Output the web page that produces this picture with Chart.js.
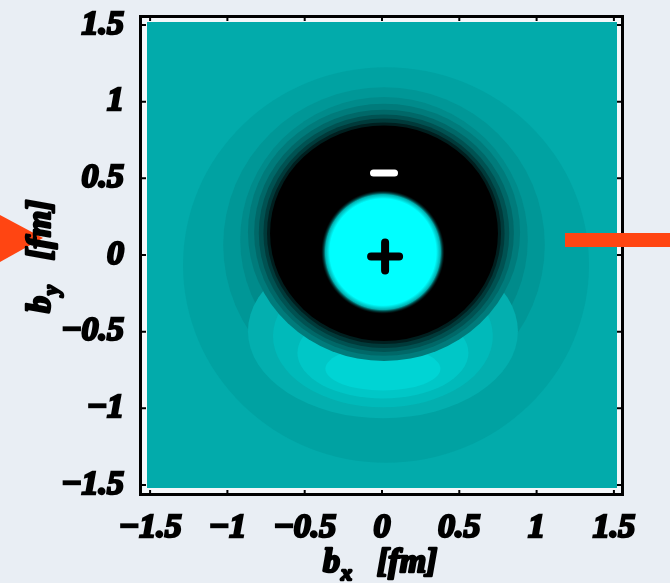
<!DOCTYPE html>
<html lang="en">
<head>
<meta charset="UTF-8">
<title>Transverse density</title>
<script src="https://cdn.jsdelivr.net/npm/chart.js"></script>
<style>
  html, body { margin: 0; padding: 0; background: #e9eef4; }
  #wrap { width: 670px; height: 583px; position: relative; }
</style>
</head>
<body>
<div id="wrap"><canvas id="densityChart" width="670" height="583"></canvas></div>
<script>
// axis ticks, in fm
const tickValues = [-1.5, -1, -0.5, 0, 0.5, 1, 1.5];
const tickLabels = ['\u22121.5', '\u22121', '\u22120.5', '0', '0.5', '1', '1.5'];
const axisMin = -1.52;
const axisMax = 1.52;

// contour bands as ellipses (fm), in drawing order:
// outer negative rings, positive lobes below, inner negative rings, core
const bandCx = [0.026, 0.013, 0.013, 0.006, 0.006, 0.006, 0.006, 0.013, 0.013, 0.013, 0.013, 0.013, 0.013];
const bandCy = [-0.065, 0.065, 0.10, -0.497, -0.529, -0.639, -0.742, 0.148, 0.145, 0.142, 0.142, 0.142, 0.142];
const bandRx = [1.313, 1.04, 0.93, 0.873, 0.711, 0.553, 0.372, 0.88, 0.84, 0.81, 0.78, 0.757, 0.737];
const bandRy = [1.29, 1.03, 0.93, 0.568, 0.465, 0.297, 0.142, 0.839, 0.803, 0.774, 0.748, 0.723, 0.703];

// positive core disk (fm)
const coreX = 0.006;
const coreY = 0.019;
const coreR = 0.40;

// sign markers (fm)
const plusPos = [{ x: 0.02, y: -0.01 }];
const minusPos = [{ x: 0.013, y: 0.535 }];

const bandColors = ['#00a2a2', '#009797', '#008b8b', '#03afaf', '#00baba', '#00c7c7', '#00d4d4',
                    '#007b7b', '#006868', '#005252', '#003a3a', '#001f1f', '#000000'];
const bgTeal = '#02abab';
const titleFont = 'italic bold 34px "Liberation Serif"';
const subFont = 'italic bold 22px "Liberation Serif"';

const contours = {
    id: 'contours',
    beforeDraw(chart) {
        const ctx = chart.ctx;
        const a = chart.chartArea;
        ctx.save();
        ctx.fillStyle = '#f4f7fa';
        ctx.fillRect(a.left - 6, a.top - 6, a.right - a.left + 12, a.bottom - a.top + 12);
        ctx.restore();
    },
    beforeDatasetsDraw(chart) {
        const ctx = chart.ctx;
        const a = chart.chartArea;
        const xs = chart.scales.x, ys = chart.scales.y;
        ctx.save();
        ctx.beginPath();
        ctx.rect(a.left, a.top, a.right - a.left, a.bottom - a.top);
        ctx.clip();
        ctx.fillStyle = bgTeal;
        ctx.fillRect(a.left, a.top, a.right - a.left, a.bottom - a.top);
        for (let i = 0; i < bandCx.length; i++) {
            const px = xs.getPixelForValue(bandCx[i]);
            const py = ys.getPixelForValue(bandCy[i]);
            const rx = Math.abs(xs.getPixelForValue(bandCx[i] + bandRx[i]) - px);
            const ry = Math.abs(ys.getPixelForValue(bandCy[i] + bandRy[i]) - py);
            ctx.beginPath();
            ctx.ellipse(px, py, rx, ry, 0, 0, Math.PI * 2);
            ctx.fillStyle = bandColors[i];
            ctx.fill();
        }
        // core disk with soft edge
        const cx = xs.getPixelForValue(coreX);
        const cy = ys.getPixelForValue(coreY);
        const r = Math.abs(xs.getPixelForValue(coreX + coreR) - cx);
        const g = ctx.createRadialGradient(cx, cy, 0, cx, cy, r);
        g.addColorStop(0, '#00ffff');
        g.addColorStop(0.86, '#00ffff');
        g.addColorStop(0.93, '#00b0b0');
        g.addColorStop(1, 'rgba(0,40,40,0)');
        ctx.beginPath();
        ctx.arc(cx, cy, r, 0, Math.PI * 2);
        ctx.fillStyle = g;
        ctx.fill();
        ctx.restore();
        ctx.lineCap = 'round';
    },
    afterDatasetsDraw(chart) {
        chart.ctx.lineCap = 'butt';
    },
    afterDraw(chart) {
        const ctx = chart.ctx;
        const a = chart.chartArea;
        const xs = chart.scales.x, ys = chart.scales.y;
        ctx.save();
        // frame
        ctx.strokeStyle = '#000';
        ctx.lineWidth = 3;
        ctx.strokeRect(a.left - 6.5, a.top - 5.5, a.right - a.left + 12, a.bottom - a.top + 12);
        ctx.lineWidth = 2;
        tickValues.forEach(v => {
            const px = xs.getPixelForValue(v);
            const py = ys.getPixelForValue(v);
            ctx.beginPath();
            ctx.moveTo(px, a.bottom + 6); ctx.lineTo(px, a.bottom + 2);
            ctx.moveTo(px, a.top - 5); ctx.lineTo(px, a.top - 1);
            ctx.moveTo(a.left - 5, py); ctx.lineTo(a.left - 1, py);
            ctx.moveTo(a.right + 4, py); ctx.lineTo(a.right, py);
            ctx.stroke();
        });
        // orange pointers
        ctx.fillStyle = '#ff4512';
        ctx.beginPath();
        ctx.moveTo(0, 215); ctx.lineTo(43, 238); ctx.lineTo(0, 262);
        ctx.closePath();
        ctx.fill();
        ctx.fillRect(565, 233, 105, 14);
        // axis titles
        ctx.fillStyle = '#000';
        ctx.strokeStyle = '#000';
        ctx.lineWidth = 2.5;
        ctx.lineJoin = 'round';
        ctx.textBaseline = 'alphabetic';
        const put = (t, x, y, f) => { ctx.font = f; ctx.fillText(t, x, y); ctx.strokeText(t, x, y); return ctx.measureText(t).width; };
        let w = put('b', 323, 572, titleFont);
        put('x', 323 + w + 1, 580, subFont);
        put('[fm]', 377, 572, titleFont);
        ctx.translate(50, 313);
        ctx.rotate(-Math.PI / 2);
        w = put('b', 0, 0, titleFont);
        put('y', w + 1, 8, subFont);
        put('[fm]', 53, 0, titleFont);
        ctx.restore();
    }
};

const tickFont = { family: 'Liberation Serif', size: 34, style: 'italic', weight: 'bold' };
const noPad = s => { s.paddingTop = 0; s.paddingBottom = 0; s.paddingLeft = 0; s.paddingRight = 0; };

new Chart(document.getElementById('densityChart'), {
    type: 'scatter',
    data: {
        datasets: [
            { label: 'plus', data: plusPos, pointStyle: 'cross', pointRadius: 14, borderWidth: 8,
              borderColor: '#000', backgroundColor: '#000' },
            { label: 'minus', data: minusPos, pointStyle: 'line', pointRadius: 10.5, borderWidth: 7,
              borderColor: '#fff', backgroundColor: '#fff' }
        ]
    },
    options: {
        responsive: false,
        animation: false,
        layout: { padding: { top: 18, right: 53, bottom: 0, left: 0 } },
        plugins: { legend: { display: false }, tooltip: { enabled: false } },
        scales: {
            x: {
                type: 'linear', min: axisMin, max: axisMax,
                afterBuildTicks: s => { s.ticks = tickValues.map(v => ({ value: v })); },
                afterFit: s => { s.height = 95; noPad(s); },
                grid: { display: false }, border: { display: false },
                ticks: { callback: (v, i) => tickLabels[i], font: tickFont, color: '#000',
                         textStrokeColor: '#000', textStrokeWidth: 2.5, padding: 12,
                         maxRotation: 0, autoSkip: false }
            },
            y: {
                type: 'linear', min: axisMin, max: axisMax,
                afterBuildTicks: s => { s.ticks = tickValues.map(v => ({ value: v })); },
                afterFit: s => { s.width = 147; noPad(s); },
                grid: { display: false }, border: { display: false },
                ticks: { callback: (v, i) => tickLabels[i], font: tickFont, color: '#000',
                         textStrokeColor: '#000', textStrokeWidth: 2.5, padding: 15, autoSkip: false }
            }
        }
    },
    plugins: [contours]
});
</script>
</body>
</html>
